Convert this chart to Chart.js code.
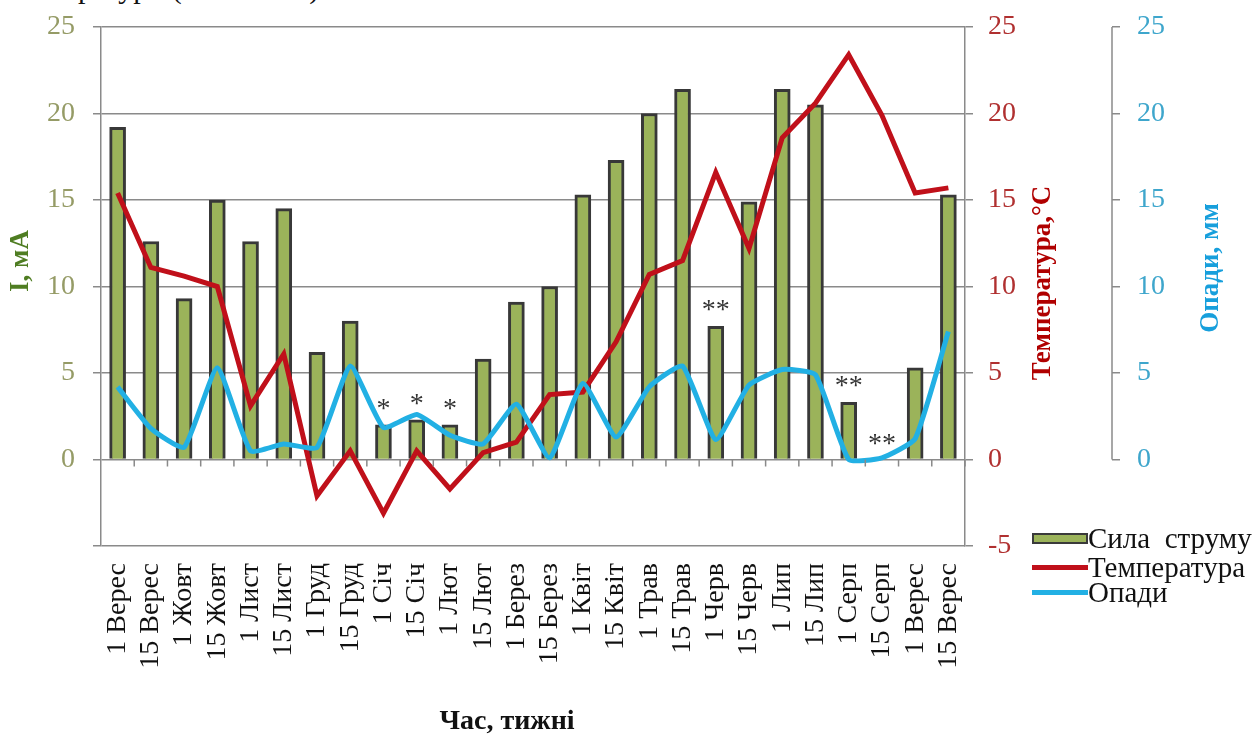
<!DOCTYPE html>
<html lang="uk">
<head>
<meta charset="UTF-8">
<title>Сила струму, температура та опади</title>
<script src="https://cdn.jsdelivr.net/npm/chart.js@4.4.0/dist/chart.umd.js"></script>
<style>
  * { margin: 0; padding: 0; box-sizing: border-box; }
  body { width: 1259px; height: 738px; background: #fff; overflow: hidden; position: relative;
         font-family: 'Liberation Serif', 'Times New Roman', serif; }
  #wrap { position: absolute; left: 0; top: 0; width: 1259px; height: 738px; }
  .head { position: absolute; left: 78px; top: -29px; font-size: 30px; color: #111; white-space: pre; }
  .legend-row { position: absolute; left: 1032px; height: 30px; display: flex; align-items: center;
                font-size: 29px; color: #111; white-space: pre; }
  .sw-bar { width: 56px; height: 11px; background: #9bb35a; border: 2px solid #3a3a3a; }
  .sw-line { width: 56px; height: 5px; }
</style>
</head>
<body>
<div class="head">ратури (                 )</div>
<div id="wrap"><canvas id="chart" width="1259" height="738"></canvas></div>
<div class="legend-row" style="top:523px"><span class="sw-bar"></span><span>Сила  струму</span></div>
<div class="legend-row" style="top:552px"><span class="sw-line" style="background:#c0101a"></span><span>Температура</span></div>
<div class="legend-row" style="top:577px"><span class="sw-line" style="background:#22b0e4"></span><span>Опади</span></div>
<script>
const labels = ['1 Верес', '15 Верес', '1 Жовт', '15 Жовт', '1 Лист', '15 Лист', '1 Груд', '15 Груд',
  '1 Січ', '15 Січ', '1 Лют', '15 Лют', '1 Берез', '15 Берез', '1 Квіт', '15 Квіт', '1 Трав', '15 Трав',
  '1 Черв', '15 Черв', '1 Лип', '15 Лип', '1 Серп', '15 Серп', '1 Верес', '15 Верес'];

// Сила струму, мА
const currentMA = [19.2, 12.6, 9.3, 15.0, 12.6, 14.5, 6.2, 8.0, 2.0, 2.3, 2.0, 5.8, 9.1, 10.0,
  15.3, 17.3, 20.0, 21.4, 7.7, 14.9, 21.4, 20.5, 3.3, 0, 5.3, 15.3];

// Температура, °С
const temperature = [15.4, 11.1, 10.6, 10.0, 3.1, 6.1, -2.1, 0.5, -3.1, 0.5, -1.7, 0.4, 1.0, 3.75,
  3.9, 6.8, 10.7, 11.5, 16.6, 12.2, 18.6, 20.6, 23.4, 19.9, 15.4, 15.7];

// Опади, мм
const precipitation = [4.2, 1.8, 0.7, 5.3, 0.5, 0.9, 0.7, 5.4, 1.85, 2.6, 1.4, 0.9, 3.2, 0.1,
  4.4, 1.3, 4.2, 5.4, 1.15, 4.3, 5.2, 4.9, 0, 0.1, 1.2, 7.4];

// позначки над стовпчиками
const marks = ['', '', '', '', '', '', '', '', '*', '*', '*', '', '', '', '', '', '', '',
  '**', '', '', '', '**', '**', '', ''];

const yTicks = [-5, 0, 5, 10, 15, 20, 25];

const SERIF = "'Liberation Serif', 'Times New Roman', serif";
const GRID = '#8a8a8a';

// Додаткові елементи: риски на нульовій лінії, вісь опадів, зірочки, назви осей
const extras = {
  id: 'extras',
  afterDatasetsDraw(chart) {
    const { ctx, scales } = chart;
    const x = scales.x, y = scales.y, yP = scales.yP;
    const y0 = y.getPixelForValue(0);
    ctx.save();
    ctx.strokeStyle = GRID;
    ctx.lineWidth = 1.5;
    ctx.beginPath();
    for (let i = 1; i <= labels.length; i++) {
      const bx = i < labels.length
        ? (x.getPixelForValue(i - 1) + x.getPixelForValue(i)) / 2
        : x.right;
      ctx.moveTo(bx, y0);
      ctx.lineTo(bx, y0 + 7);
    }
    // лінія осі опадів від 0 до 25
    ctx.moveTo(yP.left, yP.getPixelForValue(0));
    ctx.lineTo(yP.left, yP.getPixelForValue(25));
    ctx.stroke();

    ctx.fillStyle = '#333';
    ctx.font = '28px ' + SERIF;
    ctx.textAlign = 'center';
    ctx.textBaseline = 'alphabetic';
    marks.forEach((m, i) => {
      if (!m) return;
      const top = y.getPixelForValue(currentMA[i]);
      ctx.fillText(m, x.getPixelForValue(i), top - 8);
    });
    ctx.restore();
  },
  afterDraw(chart) {
    const { ctx } = chart;
    const rotated = (text, cx, cy, color, size) => {
      ctx.save();
      ctx.translate(cx, cy);
      ctx.rotate(-Math.PI / 2);
      ctx.font = 'bold ' + size + 'px ' + SERIF;
      ctx.fillStyle = color;
      ctx.textAlign = 'center';
      ctx.textBaseline = 'middle';
      ctx.fillText(text, 0, 0);
      ctx.restore();
    };
    rotated('I, мА', 21, 261, '#4f7d22', 27);
    rotated('Температура,°С', 1043, 283, '#b00000', 27);
    rotated('Опади, мм', 1211, 268, '#179fdc', 27);

    ctx.save();
    ctx.font = 'bold 28px ' + SERIF;
    ctx.fillStyle = '#111';
    ctx.textAlign = 'center';
    ctx.textBaseline = 'middle';
    ctx.fillText('Час, тижні', 507, 722);
    ctx.restore();
  }
};

const hideNeg = v => (v < 0 ? '' : v);

// фіксована ширина вертикальної осі без додаткових відступів зверху і знизу
const fitWidth = w => s => {
  s.width = w;
  s.paddingTop = 0;
  s.paddingBottom = 0;
};

new Chart(document.getElementById('chart'), {
  data: {
    labels: labels,
    datasets: [
      {
        type: 'line',
        label: 'Опади',
        data: precipitation,
        yAxisID: 'yP',
        borderColor: '#22b0e4',
        borderWidth: 5,
        pointRadius: 0,
        tension: 0.15,
        order: 1
      },
      {
        type: 'line',
        label: 'Температура',
        data: temperature,
        yAxisID: 'yT',
        borderColor: '#c0101a',
        borderWidth: 5,
        pointRadius: 0,
        tension: 0,
        order: 2
      },
      {
        type: 'bar',
        label: 'Сила струму',
        data: currentMA,
        yAxisID: 'y',
        backgroundColor: '#9bb35a',
        borderColor: '#383838',
        borderWidth: 3,
        borderSkipped: 'start',
        barThickness: 16,
        order: 3
      }
    ]
  },
  options: {
    responsive: false,
    animation: false,
    events: [],
    layout: { padding: { left: 0, top: 27, right: 0, bottom: 0 } },
    plugins: {
      legend: { display: false },
      tooltip: { enabled: false }
    },
    scales: {
      x: {
        type: 'category',
        offset: true,
        afterFit: s => { s.height = 192; },
        grid: { display: false, drawTicks: false },
        border: { display: false },
        ticks: {
          autoSkip: false,
          minRotation: 90,
          maxRotation: 90,
          padding: 17,
          color: '#111',
          font: { family: SERIF, size: 28 }
        }
      },
      y: {
        position: 'left',
        min: -5,
        max: 25,
        afterFit: fitWidth(101),
        afterBuildTicks: s => { s.ticks = yTicks.map(v => ({ value: v })); },
        grid: { color: GRID, lineWidth: 1.5, tickLength: 8 },
        border: { color: GRID, width: 1.5 },
        ticks: {
          padding: 18,
          color: '#959b66',
          font: { family: SERIF, size: 28 },
          callback: hideNeg
        }
      },
      yT: {
        position: 'right',
        min: -5,
        max: 25,
        afterFit: fitWidth(147),
        afterBuildTicks: s => { s.ticks = yTicks.map(v => ({ value: v })); },
        grid: { drawOnChartArea: false, color: GRID, lineWidth: 1.5, tickLength: 8 },
        border: { color: GRID, width: 1.5 },
        ticks: {
          padding: 15,
          color: '#b03030',
          font: { family: SERIF, size: 28 }
        }
      },
      yP: {
        position: 'right',
        min: -5,
        max: 25,
        afterFit: fitWidth(147),
        afterBuildTicks: s => { s.ticks = yTicks.map(v => ({ value: v })); },
        grid: {
          drawOnChartArea: false,
          lineWidth: 1.5,
          tickLength: 8,
          color: c => (c.tick && c.tick.value < 0 ? 'rgba(0,0,0,0)' : GRID)
        },
        border: { display: false },
        ticks: {
          padding: 17,
          color: '#3ea6cc',
          font: { family: SERIF, size: 28 },
          callback: hideNeg
        }
      }
    }
  },
  plugins: [extras]
});
</script>
</body>
</html>
